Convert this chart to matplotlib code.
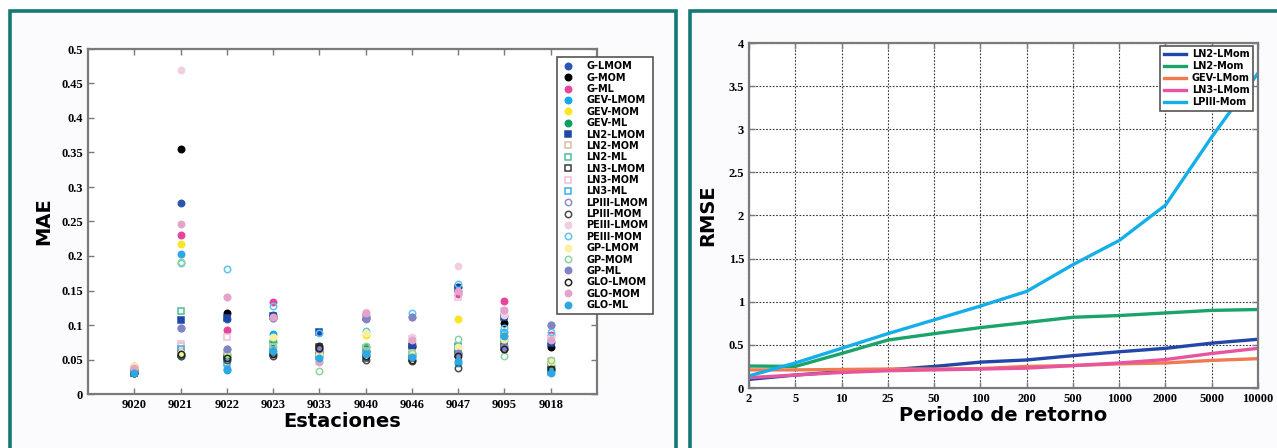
import matplotlib
matplotlib.use('Agg')
import matplotlib.pyplot as plt
from matplotlib.patches import Rectangle

# ---------------- data: left panel (MAE per station) ----------------
stations = ['9020', '9021', '9022', '9023', '9033', '9040', '9046', '9047', '9095', '9018']

g_lmom      = [0.032, 0.277, 0.108, 0.115, 0.065, 0.110, 0.068, 0.150, 0.113, 0.075]
g_mom       = [0.035, 0.355, 0.117, 0.112, 0.070, 0.062, 0.070, 0.155, 0.103, 0.068]
g_ml        = [0.040, 0.230, 0.093, 0.133, 0.062, 0.113, 0.072, 0.145, 0.135, 0.085]
gev_lmom    = [0.030, 0.055, 0.035, 0.087, 0.055, 0.060, 0.055, 0.045, 0.090, 0.033]
gev_mom     = [0.038, 0.218, 0.058, 0.080, 0.060, 0.085, 0.058, 0.108, 0.085, 0.045]
gev_ml      = [0.033, 0.057, 0.055, 0.075, 0.058, 0.068, 0.058, 0.060, 0.078, 0.040]
ln2_lmom    = [0.031, 0.107, 0.110, 0.113, 0.090, 0.111, 0.070, 0.153, 0.112, 0.074]
ln2_mom     = [0.036, 0.070, 0.060, 0.068, 0.062, 0.062, 0.060, 0.062, 0.075, 0.048]
ln2_ml      = [0.034, 0.121, 0.055, 0.072, 0.055, 0.066, 0.056, 0.070, 0.080, 0.042]
ln3_lmom    = [0.030, 0.058, 0.052, 0.060, 0.068, 0.052, 0.052, 0.058, 0.068, 0.035]
ln3_mom     = [0.036, 0.072, 0.082, 0.068, 0.048, 0.115, 0.080, 0.140, 0.120, 0.080]
ln3_ml      = [0.030, 0.065, 0.045, 0.062, 0.055, 0.058, 0.055, 0.068, 0.088, 0.032]
lpiii_lmom  = [0.033, 0.095, 0.065, 0.110, 0.062, 0.110, 0.111, 0.058, 0.070, 0.100]
lpiii_mom   = [0.031, 0.055, 0.050, 0.055, 0.060, 0.050, 0.048, 0.037, 0.065, 0.036]
peiii_lmom  = [0.040, 0.470, 0.140, 0.110, 0.048, 0.119, 0.082, 0.186, 0.115, 0.082]
peiii_mom   = [0.032, 0.190, 0.181, 0.128, 0.088, 0.092, 0.118, 0.160, 0.095, 0.090]
gp_lmom     = [0.040, 0.060, 0.060, 0.082, 0.058, 0.088, 0.060, 0.068, 0.080, 0.046]
gp_mom      = [0.035, 0.192, 0.058, 0.070, 0.033, 0.070, 0.060, 0.080, 0.055, 0.049]
gp_ml       = [0.034, 0.095, 0.065, 0.110, 0.065, 0.108, 0.112, 0.060, 0.066, 0.100]
glo_lmom    = [0.031, 0.058, 0.052, 0.058, 0.066, 0.055, 0.050, 0.055, 0.065, 0.036]
glo_mom     = [0.038, 0.247, 0.140, 0.112, 0.047, 0.118, 0.078, 0.150, 0.122, 0.078]
glo_ml      = [0.030, 0.203, 0.036, 0.062, 0.052, 0.058, 0.054, 0.048, 0.084, 0.030]

mae_names = ['G-LMOM', 'G-MOM', 'G-ML', 'GEV-LMOM', 'GEV-MOM', 'GEV-ML',
             'LN2-LMOM', 'LN2-MOM', 'LN2-ML', 'LN3-LMOM', 'LN3-MOM', 'LN3-ML',
             'LPIII-LMOM', 'LPIII-MOM', 'PEIII-LMOM', 'PEIII-MOM',
             'GP-LMOM', 'GP-MOM', 'GP-ML', 'GLO-LMOM', 'GLO-MOM', 'GLO-ML']

# ---------------- data: right panel (RMSE per return period) ----------------
periods = ['2', '5', '10', '25', '50', '100', '200', '500', '1000', '2000', '5000', '10000']
rmse_names = ['LN2-LMom', 'LN2-Mom', 'GEV-LMom', 'LN3-LMom', 'LPIII-Mom']
rmse_ln2_lmom  = [0.10, 0.15, 0.19, 0.21, 0.25, 0.30, 0.325, 0.375, 0.42, 0.46, 0.52, 0.565]
rmse_ln2_mom   = [0.255, 0.25, 0.40, 0.556, 0.63, 0.70, 0.76, 0.82, 0.84, 0.87, 0.90, 0.91]
rmse_gev_lmom  = [0.21, 0.21, 0.215, 0.22, 0.22, 0.225, 0.25, 0.26, 0.28, 0.29, 0.32, 0.34]
rmse_ln3_lmom  = [0.12, 0.15, 0.18, 0.20, 0.21, 0.22, 0.23, 0.26, 0.29, 0.33, 0.40, 0.46]
rmse_lpiii_mom = [0.14, 0.29, 0.46, 0.63, 0.79, 0.95, 1.12, 1.43, 1.71, 2.12, 2.91, 3.65]

# ---------------- styles ----------------
mae_series = [g_lmom, g_mom, g_ml, gev_lmom, gev_mom, gev_ml, ln2_lmom, ln2_mom, ln2_ml,
              ln3_lmom, ln3_mom, ln3_ml, lpiii_lmom, lpiii_mom, peiii_lmom, peiii_mom,
              gp_lmom, gp_mom, gp_ml, glo_lmom, glo_mom, glo_ml]
mae_colors = ['#2a56b0', '#000000', '#e8449a', '#12a9e8', '#f7e526', '#0f9e62',
              '#1d48a8', '#e2b9a8', '#4cbf95', '#3a3a3a', '#efc0d8', '#3aaee8',
              '#8e8ecb', '#4a4a4a', '#f0cfe2', '#5cc4f2', '#f9f0a0', '#8fd2a2',
              '#7f84c4', '#222222', '#e3a4ca', '#2ea8e2']
mae_markers = ['o', 'o', 'o', 'o', 'o', 'o', 's', 's', 's', 's', 's', 's',
               'o', 'o', 'o', 'o', 'o', 'o', 'o', 'o', 'o', 'o']
mae_filled = [True, True, True, True, True, True, True, False, False, False, False, False,
              False, False, True, False, True, False, True, False, True, True]

rmse_series = [rmse_ln2_lmom, rmse_ln2_mom, rmse_gev_lmom, rmse_ln3_lmom, rmse_lpiii_mom]
rmse_colors = ['#2346a8', '#1aa36a', '#f07a52', '#e8559e', '#14aee8']

W, H = 1277, 448
fig = plt.figure(figsize=(W / 100, H / 100), dpi=100)
fig.patch.set_facecolor('white')

frame_col = '#137876'
fig.patches.append(Rectangle((10 / W, -0.1), 666 / W, 1.1 - 11 / H, transform=fig.transFigure,
                             facecolor='#fbfbfd', edgecolor=frame_col, linewidth=2.6, zorder=-5))
fig.patches.append(Rectangle((690 / W, -0.1), 0.6, 1.1 - 11 / H, transform=fig.transFigure,
                             facecolor='#fbfbfd', edgecolor=frame_col, linewidth=2.6, zorder=-5))

tick_font = dict(family='Liberation Serif', weight='bold', size=9)
spine_col = '#7a7a7a'

# ---------------- left panel ----------------
ax1 = fig.add_axes([88 / W, 1 - 394 / H, 509 / W, 345 / H])
ax1.set_facecolor('white')
xs = list(range(1, len(stations) + 1))
for vals, name, col, mk, fl in zip(mae_series, mae_names, mae_colors, mae_markers, mae_filled):
    ax1.plot(xs, vals, linestyle='none', marker=mk, markersize=4.6,
             markerfacecolor=col if fl else 'none', markeredgecolor=col,
             markeredgewidth=1.1, label=name)
ax1.set_xlim(0, 11)
ax1.set_ylim(0, 0.5)
ax1.set_xticks(xs)
ax1.set_xticklabels(stations)
yt = [i * 0.05 for i in range(11)]
ax1.set_yticks(yt)
ax1.set_yticklabels(['0', '0.05', '0.1', '0.15', '0.2', '0.25', '0.3', '0.35', '0.4', '0.45', '0.5'])
ax1.tick_params(direction='in', top=True, right=True, length=4, color=spine_col, width=1)
for lab in ax1.get_xticklabels() + ax1.get_yticklabels():
    lab.set_fontproperties(tick_font)
for s in ax1.spines.values():
    s.set_color(spine_col)
    s.set_linewidth(1.6)
ax1.set_xlabel('Estaciones', fontsize=14, fontweight='bold', family='DejaVu Sans', labelpad=1)
ax1.set_ylabel('MAE', fontsize=14, fontweight='bold', family='DejaVu Sans', labelpad=6)
leg1 = ax1.legend(loc='upper left', bbox_to_anchor=((557 - 88) / 509, 1 - (57 - 49) / 345),
                  prop=dict(family='DejaVu Sans', weight='bold', size=7), frameon=True, fancybox=False,
                  edgecolor='#555555', labelspacing=0.14, handletextpad=1.25, borderpad=0.45,
                  handlelength=1.3, borderaxespad=0, framealpha=1)
leg1.get_frame().set_linewidth(1.2)

# ---------------- right panel ----------------
ax2 = fig.add_axes([749 / W, 1 - 388 / H, 509 / W, 345 / H])
ax2.set_facecolor('white')
px = list(range(len(periods)))
for vals, name, col in zip(rmse_series, rmse_names, rmse_colors):
    ax2.plot(px, vals, color=col, linewidth=2.4, label=name)
ax2.set_xlim(0, len(periods) - 1)
ax2.set_ylim(0, 4)
ax2.set_xticks(px)
ax2.set_xticklabels(periods)
ax2.set_yticks([0, 0.5, 1, 1.5, 2, 2.5, 3, 3.5, 4])
ax2.set_yticklabels(['0', '0.5', '1', '1.5', '2', '2.5', '3', '3.5', '4'])
ax2.grid(True, linestyle=(0, (1.5, 1.5)), color='#333333', linewidth=0.8)
ax2.tick_params(direction='in', top=True, right=True, length=4, color=spine_col, width=1)
for lab in ax2.get_xticklabels() + ax2.get_yticklabels():
    lab.set_fontproperties(tick_font)
for s in ax2.spines.values():
    s.set_color(spine_col)
    s.set_linewidth(1.6)
ax2.set_xlabel('Periodo de retorno', fontsize=14, fontweight='bold', family='DejaVu Sans', labelpad=1)
ax2.set_ylabel('RMSE', fontsize=14, fontweight='bold', family='DejaVu Sans', labelpad=8)
leg2 = ax2.legend(loc='upper right', bbox_to_anchor=((1253 - 749) / 509, 1 - (46 - 43) / 345),
                  prop=dict(family='DejaVu Sans', weight='bold', size=7), frameon=True, fancybox=False,
                  edgecolor='#555555', labelspacing=0.2, handletextpad=0.6, borderpad=0.35,
                  handlelength=2.3, borderaxespad=0, framealpha=1)
leg2.get_frame().set_linewidth(1.2)

fig.savefig('out.png', dpi=100, facecolor=fig.get_facecolor())
